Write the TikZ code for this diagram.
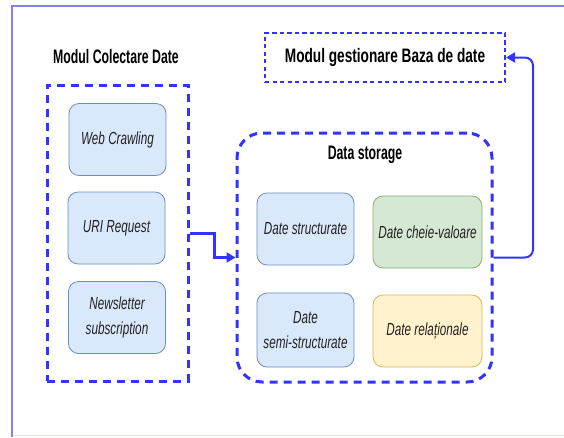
\documentclass[tikz,border=0pt]{standalone}
\usepackage{fontspec}
\setmainfont{Liberation Sans}
\newfontfamily\bodyfont{Liberation Sans}[FakeStretch=0.67]
\newfontfamily\headfont{Liberation Sans}[FakeStretch=0.63]
\newfontfamily\headwidefont{Liberation Sans}[FakeStretch=0.70]
\usetikzlibrary{arrows.meta}
\definecolor{frameblue}{HTML}{8080FF}
\definecolor{framelight}{HTML}{E2E2FF}
\definecolor{dashblue}{HTML}{3333FF}
\definecolor{bluefill}{HTML}{DAE8FC}
\definecolor{bluedraw}{HTML}{6C8EBF}
\definecolor{greenfill}{HTML}{D5E8D4}
\definecolor{greendraw}{HTML}{82B366}
\definecolor{yellowfill}{HTML}{FFF2CC}
\definecolor{yellowdraw}{HTML}{D6B656}
\definecolor{bodytext}{HTML}{222222}
\tikzset{
  item/.style={draw=#1draw, fill=#1fill, rounded corners=10pt, line width=0.8pt,
    minimum width=97pt, minimum height=72pt, align=center, inner sep=2pt,
    font=\bodyfont\itshape\fontsize{17.5}{25}\selectfont, text=bodytext},
  heading/.style={font=\headfont\bfseries\fontsize{19.5}{22}\selectfont, text=black},
  groupbox/.style={draw=dashblue, line width=3pt, dash pattern=on 8pt off 6pt},
  flow/.style={draw=dashblue, -{Triangle[length=9pt,width=10pt]}}
}
\begin{document}
\begin{tikzpicture}[x=1pt,y=-1pt]
\useasboundingbox (0,0) rectangle (564,437);
% outer frame (only three sides are inside the page)
\draw[framelight, line width=1.5pt] (12,435.5) -- (570,435.5);
\draw[frameblue, line width=2pt] (12,437) -- (12,6) -- (570,6);

% collection module
\node[heading] (coltitle) at (116,57) {Modul Colectare Date};
\node[groupbox, minimum width=141pt, minimum height=296pt] (colbox) at (117.5,233) {};
\node[item=blue] (webc) at (117.5,139.5) {Web Crawling};
\node[item=blue] (uri) at (116.5,228) {URI Request};
\node[item=blue] (news) at (117,317.5) {Newsletter\\subscription};

% storage group
\node[groupbox, rounded corners=25pt, minimum width=255pt, minimum height=249pt] (storage) at (364.5,257.5) {};
\node[heading] (sttitle) at (365,155) {Data storage};
\node[item=blue] (struct) at (305.5,229) {Date structurate};
\node[item=green, minimum width=109pt] (cheie) at (427.5,232) {Date cheie-valoare};
\node[item=blue, minimum height=74pt] (semi) at (305.5,330) {Date\\semi-structurate};
\node[item=yellow, minimum width=109pt] (rel) at (427.5,331) {Date relaționale};

% database management module
\node[draw=dashblue, line width=2pt, dash pattern=on 4.3pt off 3.2pt,
      minimum width=240pt, minimum height=49pt,
      font=\headwidefont\bfseries\fontsize{19.5}{22}\selectfont] (gest) at (385,57.5)
      {Modul gestionare Baza de date};

% connectors
\draw[flow, line width=3pt] (colbox.east) -- ++(25,0) |- (storage.west);
\coordinate (turn) at (533,0);
\draw[flow, line width=2pt, rounded corners=8pt]
  (storage.east) -- (storage.east -| turn) -- (turn |- gest.east) -- (gest.east);
\end{tikzpicture}
\end{document}
